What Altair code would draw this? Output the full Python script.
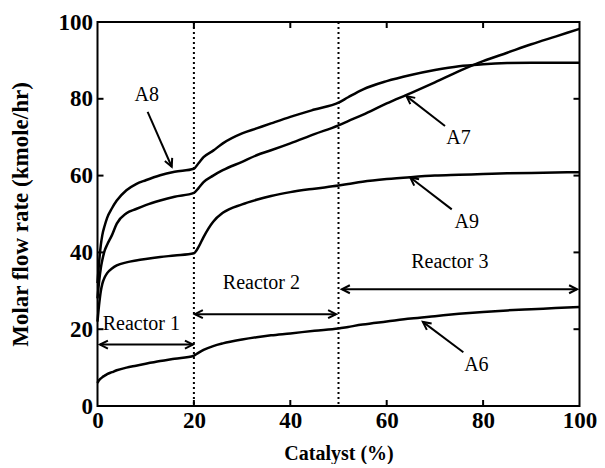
import math
import altair as alt
import pandas as pd

W, H = 482, 384

catalyst = [0, 0.3, 0.7, 1, 1.5, 2, 3, 4, 6, 8, 10, 13, 16, 20, 21, 22, 24, 26, 30, 33,
            36, 40, 45, 50, 52, 55, 60, 65, 70, 75, 80, 85, 90, 95, 100]
a8 = [32, 37, 42, 44.5, 47, 49, 51.5, 53.5, 56.2, 57.8, 58.8, 60.1, 61, 61.8, 63.3, 64.8,
      66.5, 68.4, 71, 72.3, 73.6, 75.3, 77.2, 79, 80.4, 82.4, 84.6, 86.2, 87.5, 88.5, 89,
      89.3, 89.4, 89.4, 89.4]
a7 = [28, 32, 36, 38, 40.5, 42, 44.5, 47.5, 50.2, 51.3, 52.3, 53.5, 54.5, 55.5, 56.8, 58.3,
      60, 61.4, 63.6, 65.3, 66.6, 68.4, 70.8, 73.1, 74.2, 75.8, 78.8, 81.5, 84.3, 87.2, 89.8,
      92, 94.2, 96.2, 98.2]
a9 = [22, 26, 30, 31.8, 33.5, 34.6, 35.8, 36.6, 37.4, 37.9, 38.3, 38.8, 39.2, 39.8, 41.5, 44,
      48, 50.3, 52.5, 53.7, 54.7, 55.7, 56.6, 57.4, 57.8, 58.4, 59.1, 59.6, 60, 60.2, 60.4,
      60.6, 60.7, 60.8, 60.9]
a6 = [6, 6.7, 7.2, 7.5, 7.9, 8.3, 8.8, 9.3, 10, 10.5, 11, 11.7, 12.3, 13.1, 13.9, 14.6, 15.6,
      16.3, 17.3, 17.9, 18.4, 18.9, 19.6, 20.2, 20.6, 21.2, 22, 22.8, 23.4, 24, 24.5, 24.9,
      25.2, 25.5, 25.8]

series_names = ["A8", "A7", "A9", "A6"]

# annotation labels and their arrows (tail -> tip)
label_x = [10.2, 74.9, 76.6, 78.6]
label_y = [81, 69.7, 47.9, 10.8]
tail_x = [10.4, 72.1, 73.5, 75.9]
tail_y = [76.6, 72.9, 51.2, 14]
tip_x = [15.4, 64.1, 64.9, 67.5]
tip_y = [62.3, 80.7, 59.5, 21.9]

reactor_names = ["Reactor 1", "Reactor 2", "Reactor 3"]
reactor_text_x = [9.1, 34, 73.1]
reactor_text_y = [21.3, 32.1, 37.5]
reactor_start = [0.5, 20.2, 50.7]
reactor_end = [19.8, 49.5, 99.5]
reactor_level = [16, 23.9, 30.4]

boundaries = [20, 50]
tick_values = [0, 20, 40, 60, 80, 100]

FONT = "Liberation Serif"
HEAD = "M -1 -0.5 L 0 0 L -1 0.5"

rows = []
for name, vals in zip(series_names, [a8, a7, a9, a6]):
    for xv, yv in zip(catalyst, vals):
        rows.append({"series": name, "x": xv, "y": yv})
lines_df = pd.DataFrame(rows)

sx = W / 100.0
sy = H / 100.0


def ang(x0, y0, x1, y1):
    return math.degrees(math.atan2(-(y1 - y0) * sy, (x1 - x0) * sx)) % 360


arrows_df = pd.DataFrame({"x": tail_x, "y": tail_y, "x2": tip_x, "y2": tip_y})
heads = [{"x": tx, "y": ty, "ang": ang(a, b, tx, ty)}
         for a, b, tx, ty in zip(tail_x, tail_y, tip_x, tip_y)]
span_df = pd.DataFrame({"x": reactor_start, "x2": reactor_end, "y": reactor_level})
for s, e, lv in zip(reactor_start, reactor_end, reactor_level):
    heads.append({"x": s, "y": lv, "ang": 180.0})
    heads.append({"x": e, "y": lv, "ang": 0.0})
heads_df = pd.DataFrame(heads)

labels_df = pd.DataFrame({"t": series_names, "x": label_x, "y": label_y})
rlabels_df = pd.DataFrame({"t": reactor_names, "x": reactor_text_x, "y": reactor_text_y})
bound_df = pd.DataFrame({"x": boundaries})
ticks_df = pd.DataFrame({"v": tick_values[1:-1]})

xs = alt.Scale(domain=[0, 100], nice=False)
ys = alt.Scale(domain=[0, 100], nice=False)

x_axis = alt.Axis(values=tick_values, title="Catalyst (%)", ticks=False, domain=False, grid=False,
                  labelFont=FONT, labelFontWeight="bold", labelFontSize=23, labelColor="black",
                  labelPadding=3, titleFont=FONT, titleFontWeight="bold", titleFontSize=20,
                  titleColor="black", titlePadding=11, labelFlush=False)
y_axis = alt.Axis(values=tick_values, title="Molar flow rate (kmole/hr)", ticks=False, domain=False,
                  grid=False, labelFont=FONT, labelFontWeight="bold", labelFontSize=23,
                  labelColor="black", labelPadding=5, titleFont=FONT, titleFontWeight="bold",
                  titleFontSize=23, titleColor="black", titlePadding=26, labelFlush=False)

lines = alt.Chart(lines_df).mark_line(color="black", strokeWidth=2.5, interpolate="monotone").encode(
    x=alt.X("x:Q", scale=xs, axis=x_axis),
    y=alt.Y("y:Q", scale=ys, axis=y_axis),
    detail="series:N",
)

bounds = alt.Chart(bound_df).mark_rule(color="black", strokeWidth=2, strokeDash=[2, 3]).encode(
    x=alt.X("x:Q", scale=xs)
)

arrow_lines = alt.Chart(arrows_df).mark_rule(color="black", strokeWidth=2).encode(
    x=alt.X("x:Q", scale=xs), y=alt.Y("y:Q", scale=ys),
    x2="x2:Q", y2="y2:Q",
)

span_lines = alt.Chart(span_df).mark_rule(color="black", strokeWidth=2).encode(
    x=alt.X("x:Q", scale=xs), x2="x2:Q", y=alt.Y("y:Q", scale=ys),
)

head_marks = alt.Chart(heads_df).mark_point(
    shape=HEAD, filled=False, color="black", strokeWidth=2, size=256, opacity=1,
    strokeJoin="miter"
).encode(
    x=alt.X("x:Q", scale=xs), y=alt.Y("y:Q", scale=ys),
    angle=alt.Angle("ang:Q", scale=None),
)

labels = alt.Chart(labels_df).mark_text(font=FONT, fontSize=20, color="black").encode(
    x=alt.X("x:Q", scale=xs), y=alt.Y("y:Q", scale=ys), text="t:N"
)
rlabels = alt.Chart(rlabels_df).mark_text(font=FONT, fontSize=20, color="black").encode(
    x=alt.X("x:Q", scale=xs), y=alt.Y("y:Q", scale=ys), text="t:N"
)

tick_b = alt.Chart(ticks_df).mark_rule(color="black", strokeWidth=2).encode(
    x=alt.X("v:Q", scale=xs), y=alt.value(H), y2=alt.value(H - 6))
tick_t = alt.Chart(ticks_df).mark_rule(color="black", strokeWidth=2).encode(
    x=alt.X("v:Q", scale=xs), y=alt.value(0), y2=alt.value(6))
tick_l = alt.Chart(ticks_df).mark_rule(color="black", strokeWidth=2).encode(
    y=alt.Y("v:Q", scale=ys), x=alt.value(0), x2=alt.value(6))
tick_r = alt.Chart(ticks_df).mark_rule(color="black", strokeWidth=2).encode(
    y=alt.Y("v:Q", scale=ys), x=alt.value(W), x2=alt.value(W - 6))

chart = alt.layer(
    lines, bounds, arrow_lines, span_lines, head_marks, labels, rlabels,
    tick_b, tick_t, tick_l, tick_r
).properties(
    width=W, height=H,
    autosize=alt.AutoSizeParams(type="none"),
    padding={"left": 89.5, "top": 14, "right": 17, "bottom": 58},
    background="white",
).configure_view(stroke="black", strokeWidth=2)

chart.save("out.html", embed_options={"renderer": "svg", "actions": False})
